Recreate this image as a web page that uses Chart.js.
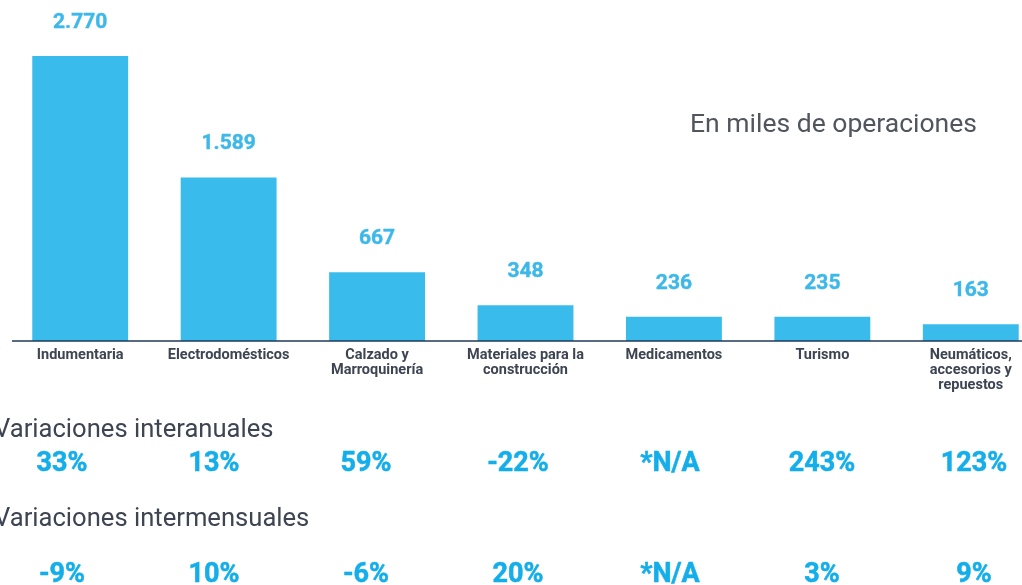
<!DOCTYPE html>
<html>
<head>
<meta charset="utf-8">
<script src="https://cdn.jsdelivr.net/npm/chart.js@4.4.0/dist/chart.umd.min.js"></script>
<style>
  html, body { margin: 0; padding: 0; background: #fff; overflow: hidden; }
  #wrap { position: relative; width: 1060px; height: 585px; }
</style>
</head>
<body>
<div id="wrap"><canvas id="chart" width="1060" height="585"></canvas></div>
<script>
// values in thousands of operations
const categories = [
  'Indumentaria',
  'Electrodomésticos',
  ['Calzado y', 'Marroquinería'],
  ['Materiales para la', 'construcción'],
  'Medicamentos',
  'Turismo',
  ['Neumáticos,', 'accesorios y', 'repuestos']
];
const operations = [2770, 1589, 667, 348, 236, 235, 163];
const interanual = ['33%', '13%', '59%', '-22%', '*N/A', '243%', '123%'];
const intermensual = ['-9%', '10%', '-6%', '20%', '*N/A', '3%', '9%'];

const BAR = '#39bcec';
const LABEL_BLUE = '#3db8e9';
const PCT_BLUE = '#14aeea';
const DARK = '#3d4452';

function fmt(v) {
  return String(v).replace(/\B(?=(\d{3})+(?!\d))/g, '.');
}

const extras = {
  id: 'extras',
  afterDatasetsDraw(chart) {
    const {ctx, chartArea} = chart;
    const meta = chart.getDatasetMeta(0);
    ctx.save();
    // baseline
    ctx.strokeStyle = '#1f3a5c';
    ctx.lineWidth = 1.5;
    ctx.beginPath();
    ctx.moveTo(12, chartArea.bottom);
    ctx.lineTo(1060, chartArea.bottom);
    ctx.stroke();

    // value labels
    ctx.fillStyle = LABEL_BLUE;
    ctx.strokeStyle = LABEL_BLUE;
    ctx.lineWidth = 0.4;
    ctx.font = 'bold 21px Roboto';
    ctx.textAlign = 'center';
    ctx.textBaseline = 'alphabetic';
    meta.data.forEach((bar, i) => {
      ctx.fillText(fmt(operations[i]), bar.x, bar.y - 28);
      ctx.strokeText(fmt(operations[i]), bar.x, bar.y - 28);
    });

    // note
    ctx.fillStyle = '#50555e';
    ctx.font = '26.5px Roboto';
    ctx.textAlign = 'left';
    ctx.fillText('En miles de operaciones', 690, 132);

    // row titles
    ctx.fillStyle = DARK;
    ctx.font = '25.6px Roboto';
    ctx.fillText('Variaciones interanuales', -6, 437);
    ctx.fillText('Variaciones intermensuales', -6, 526);

    // percentage rows, evenly spread under the chart
    ctx.fillStyle = PCT_BLUE;
    ctx.strokeStyle = PCT_BLUE;
    ctx.lineWidth = 0.5;
    ctx.font = 'bold 27px Roboto';
    ctx.textAlign = 'center';
    const n = interanual.length;
    const colX = i => 62 + (974 - 62) * i / (n - 1);
    interanual.forEach((t, i) => { ctx.fillText(t, colX(i), 471); ctx.strokeText(t, colX(i), 471); });
    intermensual.forEach((t, i) => { ctx.fillText(t, colX(i), 582); ctx.strokeText(t, colX(i), 582); });
    ctx.restore();
  }
};

new Chart(document.getElementById('chart').getContext('2d'), {
  type: 'bar',
  data: {
    labels: categories,
    datasets: [{
      data: operations,
      backgroundColor: BAR,
      barPercentage: 0.646,
      categoryPercentage: 1
    }]
  },
  options: {
    responsive: false,
    animation: false,
    devicePixelRatio: 1,
    layout: {padding: {left: 6, right: 15, top: 0, bottom: 0}},
    plugins: {legend: {display: false}, tooltip: {enabled: false}},
    scales: {
      x: {
        grid: {display: false, drawTicks: false},
        border: {display: false},
        ticks: {
          color: DARK,
          font: {family: 'Roboto', size: 14.5, weight: 'bold', lineHeight: 1.04},
          padding: 7,
          maxRotation: 0,
          autoSkip: false
        },
        afterFit(scale) { scale.height = 244; }
      },
      y: {
        display: false,
        min: 0,
        max: 3314
      }
    }
  },
  plugins: [extras]
});
</script>
</body>
</html>
